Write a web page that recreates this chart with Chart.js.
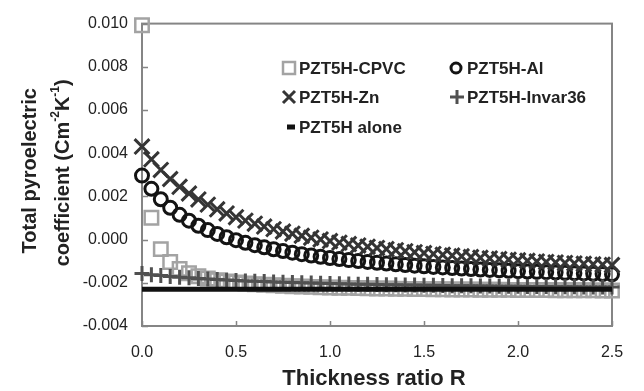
<!DOCTYPE html>
<html><head><meta charset="utf-8">
<script src="https://cdn.jsdelivr.net/npm/chart.js@4"></script>
<style>html,body{margin:0;padding:0;background:#fff}#wrap{width:644px;height:391px;position:relative}</style>
</head><body><div id="wrap"><canvas id="c" width="644" height="391"></canvas></div>
<script>
// Thickness ratio R (x values)
const ratioR = [0,0.05,0.1,0.15,0.2,0.25,0.3,0.35,0.4,0.45,0.5,0.55,0.6,0.65,0.7,0.75,0.8,0.85,0.9,0.95,1,1.05,1.1,1.15,1.2,1.25,1.3,1.35,1.4,1.45,1.5,1.55,1.6,1.65,1.7,1.75,1.8,1.85,1.9,1.95,2,2.05,2.1,2.15,2.2,2.25,2.3,2.35,2.4,2.45,2.5];
const cpvc = [0.009921,0.001008,-0.000440,-0.001033,-0.001356,-0.001559,-0.001699,-0.001800,-0.001878,-0.001939,-0.001988,-0.002029,-0.002063,-0.002091,-0.002116,-0.002138,-0.002157,-0.002174,-0.002189,-0.002202,-0.002215,-0.002226,-0.002236,-0.002245,-0.002253,-0.002261,-0.002268,-0.002275,-0.002281,-0.002287,-0.002292,-0.002297,-0.002302,-0.002306,-0.002310,-0.002314,-0.002318,-0.002322,-0.002325,-0.002328,-0.002331,-0.002334,-0.002337,-0.002339,-0.002342,-0.002344,-0.002347,-0.002349,-0.002351,-0.002353,-0.002355];
const al = [0.002963,0.002351,0.001867,0.001474,0.001148,0.000875,0.000641,0.000440,0.000264,0.000110,-0.000027,-0.000149,-0.000259,-0.000358,-0.000448,-0.000530,-0.000605,-0.000674,-0.000737,-0.000796,-0.000851,-0.000901,-0.000949,-0.000993,-0.001034,-0.001073,-0.001110,-0.001144,-0.001176,-0.001207,-0.001236,-0.001264,-0.001290,-0.001315,-0.001338,-0.001361,-0.001383,-0.001403,-0.001423,-0.001442,-0.001460,-0.001477,-0.001494,-0.001509,-0.001525,-0.001540,-0.001554,-0.001567,-0.001581,-0.001593,-0.001606];
const zn = [0.004308,0.003718,0.003225,0.002806,0.002446,0.002134,0.001860,0.001619,0.001403,0.001210,0.001037,0.000879,0.000736,0.000605,0.000485,0.000375,0.000273,0.000178,0.000090,0.000008,-0.000068,-0.000140,-0.000207,-0.000270,-0.000329,-0.000385,-0.000438,-0.000488,-0.000536,-0.000581,-0.000623,-0.000664,-0.000703,-0.000740,-0.000775,-0.000809,-0.000841,-0.000872,-0.000902,-0.000930,-0.000957,-0.000984,-0.001009,-0.001033,-0.001056,-0.001079,-0.001101,-0.001122,-0.001142,-0.001161,-0.001180];
const invar36 = [-0.001575,-0.001624,-0.001667,-0.001705,-0.001740,-0.001771,-0.001800,-0.001826,-0.001850,-0.001872,-0.001892,-0.001911,-0.001929,-0.001945,-0.001960,-0.001974,-0.001987,-0.002000,-0.002012,-0.002023,-0.002033,-0.002043,-0.002053,-0.002062,-0.002070,-0.002078,-0.002086,-0.002093,-0.002100,-0.002107,-0.002113,-0.002119,-0.002125,-0.002131,-0.002136,-0.002141,-0.002146,-0.002151,-0.002156,-0.002160,-0.002164,-0.002168,-0.002172,-0.002176,-0.002180,-0.002184,-0.002187,-0.002190,-0.002194,-0.002197,-0.002200];
const alone = [-0.0023,-0.0023,-0.0023,-0.0023,-0.0023,-0.0023,-0.0023,-0.0023,-0.0023,-0.0023,-0.0023,-0.0023,-0.0023,-0.0023,-0.0023,-0.0023,-0.0023,-0.0023,-0.0023,-0.0023,-0.0023,-0.0023,-0.0023,-0.0023,-0.0023,-0.0023,-0.0023,-0.0023,-0.0023,-0.0023,-0.0023,-0.0023,-0.0023,-0.0023,-0.0023,-0.0023,-0.0023,-0.0023,-0.0023,-0.0023,-0.0023,-0.0023,-0.0023,-0.0023,-0.0023,-0.0023,-0.0023,-0.0023,-0.0023,-0.0023,-0.0023];
const seriesNames = ['PZT5H-CPVC','PZT5H-Al','PZT5H-Zn','PZT5H-Invar36','PZT5H alone'];
const xTitle = 'Thickness ratio R';
const yTitleLine1 = 'Total pyroelectric';
const yTitleLine2 = ['coefficient (Cm', '-2', 'K', '-1', ')'];

const pts = arr => arr.map((v, i) => ({x: ratioR[i], y: v}));
const FONT = '"Liberation Sans", Arial, sans-serif';
const FRAME = '#858585';

const frameAndTicks = {
  id: 'frameAndTicks',
  beforeDatasetsDraw(chart) {
    const {ctx, chartArea: a, scales: {x, y}} = chart;
    ctx.save();
    ctx.strokeStyle = FRAME;
    ctx.lineWidth = 2;
    ctx.strokeRect(a.left, a.top, a.right - a.left, a.bottom - a.top);
    ctx.lineWidth = 1.5;
    ctx.beginPath();
    y.ticks.forEach(t => { const py = Math.round(y.getPixelForValue(t.value)) + 0.5; ctx.moveTo(a.left, py); ctx.lineTo(a.left + 6, py); });
    x.ticks.forEach(t => { const px = Math.round(x.getPixelForValue(t.value)) + 0.5; ctx.moveTo(px, a.bottom); ctx.lineTo(px, a.bottom - 5); });
    ctx.stroke();
    ctx.restore();
  },
  afterDraw(chart) {
    const {ctx, chartArea: a} = chart;
    ctx.save();
    ctx.fillStyle = '#222';
    // x title
    ctx.font = 'bold 22px ' + FONT;
    ctx.textAlign = 'center';
    ctx.textBaseline = 'middle';
    ctx.fillText(xTitle, (a.left + a.right) / 2 - 3, 379);
    // y title (rotated)
    const cy = (a.top + a.bottom) / 2;
    ctx.save();
    ctx.translate(30, cy - 4);
    ctx.rotate(-Math.PI / 2);
    ctx.font = 'bold 20px ' + FONT;
    ctx.fillText(yTitleLine1, 0, 0);
    ctx.restore();
    ctx.save();
    ctx.translate(63, cy - 2);
    ctx.rotate(-Math.PI / 2);
    const big = 'bold 20px ' + FONT, small = 'bold 12px ' + FONT;
    let total = 0; const parts = yTitleLine2.map((s, i) => { ctx.font = (i % 2 ? small : big); const w = ctx.measureText(s).width; total += w; return w; });
    let cx = -total / 2;
    ctx.textAlign = 'left';
    yTitleLine2.forEach((s, i) => { ctx.font = (i % 2 ? small : big); ctx.fillText(s, cx, i % 2 ? -7 : 0); cx += parts[i]; });
    ctx.restore();
    // legend
    const ds = chart.data.datasets;
    const items = [
      {i: 0, mx: 289, tx: 299, y: 68},
      {i: 1, mx: 456, tx: 467, y: 68},
      {i: 2, mx: 289, tx: 299, y: 97},
      {i: 3, mx: 457, tx: 467, y: 97},
      {i: 4, mx: 291, tx: 299, y: 127}
    ];
    items.forEach(it => {
      const d = ds[it.i];
      ctx.strokeStyle = d.borderColor; ctx.fillStyle = d.borderColor;
      ctx.lineWidth = 2.5;
      const {mx, y: my} = it;
      ctx.beginPath();
      if (d.legendMark === 'rect') { ctx.strokeRect(mx - 6, my - 6, 12, 12); }
      else if (d.legendMark === 'circle') { ctx.lineWidth = 3; ctx.arc(mx, my, 5, 0, Math.PI * 2); ctx.stroke(); }
      else if (d.legendMark === 'crossRot') { ctx.lineWidth = 3; ctx.moveTo(mx - 6, my - 6); ctx.lineTo(mx + 6, my + 6); ctx.moveTo(mx + 6, my - 6); ctx.lineTo(mx - 6, my + 6); ctx.stroke(); }
      else if (d.legendMark === 'cross') { ctx.lineWidth = 3; ctx.moveTo(mx - 7, my); ctx.lineTo(mx + 7, my); ctx.moveTo(mx, my - 7); ctx.lineTo(mx, my + 7); ctx.stroke(); }
      else { ctx.fillRect(mx - 4, my - 2.5, 8, 5); }
      ctx.fillStyle = '#222';
      ctx.font = 'bold 17px ' + FONT;
      ctx.textAlign = 'left'; ctx.textBaseline = 'middle';
      ctx.fillText(d.label, it.tx, my + 1);
    });
    ctx.restore();
  }
};

new Chart(document.getElementById('c'), {
  type: 'scatter',
  data: {
    datasets: [
      {label: seriesNames[0], data: pts(cpvc), legendMark: 'rect', pointStyle: 'rect', pointRadius: 9.5, borderWidth: 2.5, borderColor: '#a3a3a3', backgroundColor: 'rgba(0,0,0,0)', showLine: false, clip: false, order: 4},
      {label: seriesNames[1], data: pts(al), legendMark: 'circle', pointStyle: 'circle', pointRadius: 6.5, borderWidth: 3, borderColor: '#141414', backgroundColor: 'rgba(0,0,0,0)', showLine: false, clip: false, order: 3},
      {label: seriesNames[2], data: pts(zn), legendMark: 'crossRot', pointStyle: 'crossRot', pointRadius: 10.5, borderWidth: 3, borderColor: '#353535', backgroundColor: '#353535', showLine: false, clip: false, order: 2},
      {label: seriesNames[3], data: pts(invar36), legendMark: 'cross', pointStyle: 'cross', pointRadius: 7.5, borderWidth: 3, borderColor: '#505050', backgroundColor: '#505050', showLine: false, clip: false, order: 1},
      {label: seriesNames[4], data: pts(alone), legendMark: 'dash', pointRadius: 0, borderWidth: 5, borderColor: '#111111', backgroundColor: '#111111', showLine: true, clip: false, order: 0}
    ]
  },
  options: {
    responsive: false,
    animation: false,
    devicePixelRatio: 1,
    events: [],
    layout: {padding: {left: 0, top: 13, right: 32, bottom: 0}},
    plugins: {legend: {display: false}, tooltip: {enabled: false}},
    scales: {
      x: {
        type: 'linear', min: 0, max: 2.5,
        ticks: {stepSize: 0.5, callback: v => Number(v).toFixed(1), color: '#222', font: {family: FONT, size: 16}, padding: 17, maxRotation: 0},
        grid: {display: false, drawTicks: false},
        border: {display: false},
        afterFit: s => { s.height = 65; }
      },
      y: {
        min: -0.004, max: 0.010,
        ticks: {stepSize: 0.002, callback: v => (Math.abs(v) < 1e-9 ? 0 : v).toFixed(3), color: '#222', font: {family: FONT, size: 16}, padding: 14},
        grid: {display: false, drawTicks: false},
        border: {display: false},
        afterFit: s => { s.width = 142; }
      }
    }
  },
  plugins: [frameAndTicks]
});
</script>
</body></html>
